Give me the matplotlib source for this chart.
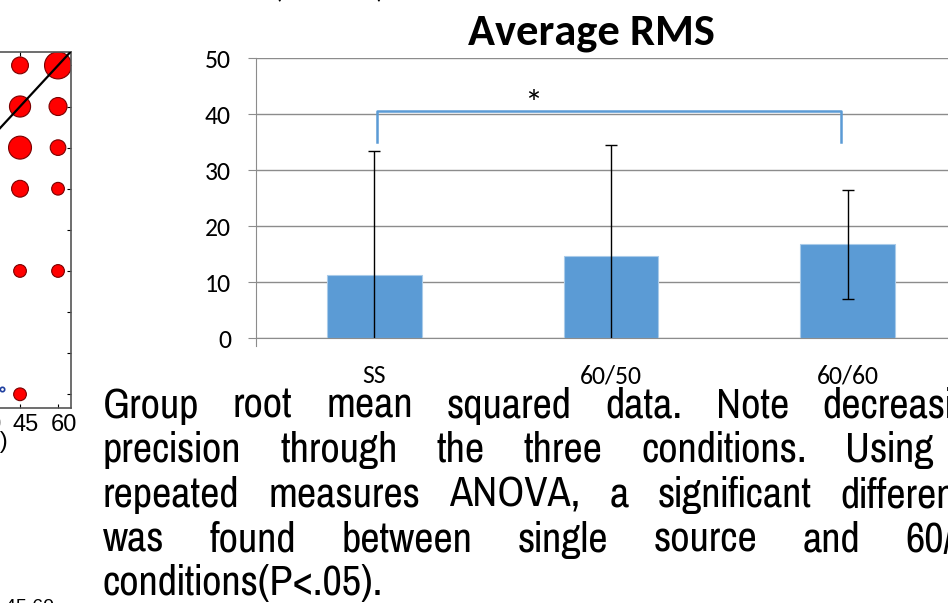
import matplotlib
matplotlib.use('Agg')
import matplotlib.pyplot as plt
import matplotlib.transforms as mtransforms
from matplotlib import font_manager

# bar chart data
conditions = ['SS', '60/50', '60/60']
rms_mean = [11.2, 14.6, 16.7]
rms_sd = [22.2, 19.8, 9.8]

# partial localisation panel on the left (target vs response, dot size = count)
target_deg = [45, 60, 45, 60, 45, 60, 45, 60, 45, 60, 45]
response_deg = [60, 60, 45, 45, 30, 30, 15, 15, -15, -15, -60]
counts = [7, 18, 11, 8, 13, 6, 7, 4, 4, 4, 4]
other_x = [38]
other_y = [-58]
loc_ticks = [-60, -45, -30, -15, 0, 15, 30, 45, 60]

caption_lines = [
    "Group root mean squared data. Note decreasing",
    "precision through the three conditions. Using a",
    "repeated measures ANOVA, a significant difference",
    "was found between single source and 60/60",
    "conditions(P<.05).",
]


def first_installed(names):
    for n in names:
        try:
            font_manager.findfont(n, fallback_to_default=False)
            return n
        except ValueError:
            pass
    return 'DejaVu Sans'


calibri = first_installed(['Carlito', 'Lato'])
arial = first_installed(['Liberation Sans', 'Arimo'])
narrow = first_installed(['Liberation Sans Narrow', 'Arial Narrow', 'Pragati Narrow',
                          'Archivo Narrow', 'PT Sans Narrow', 'Roboto Condensed'])

W, H = 948, 603
fig = plt.figure(figsize=(W / 100, H / 100), dpi=100)
fig.patch.set_facecolor('white')

# ---- left scatter (cut off) ----
sc = fig.add_axes([-258.7 / W, 1 - 408 / H, 329.4 / W, 356.3 / H])
sc.set_xlim(-65, 65)
sc.set_ylim(-65, 65)
sc.plot([-65, 65], [-65, 65], color='black', lw=1.6, zorder=3)
sc.scatter(target_deg, response_deg, s=[21 * c for c in counts], color='#ff0000',
           edgecolor='#7a0000', linewidth=0.8, zorder=2)
sc.scatter(other_x, other_y, s=10, facecolor='white', edgecolor='#1f3f9f', lw=1.2, zorder=2)
sc.set_xticks(loc_ticks)
sc.set_xticklabels([str(t) if t >= 30 else '' for t in loc_ticks])
sc.set_yticks(loc_ticks)
sc.tick_params(direction='in', length=3, top=True, right=True, labelleft=False,
               labelsize=17, pad=4)
for lab in sc.get_xticklabels():
    lab.set_fontfamily(arial)
    lab.set_transform(lab.get_transform() + mtransforms.ScaledTranslation(6 / 100, 0, fig.dpi_scale_trans))
for s in sc.spines.values():
    s.set_color('#555555')
    s.set_linewidth(1.2)

# ---- bar chart ----
ax = fig.add_axes([256 / W, 1 - 338 / H, 710 / W, 280 / H])
x = list(range(len(conditions)))
ax.bar(x, rms_mean, width=0.4, color='#5b9bd5', edgecolor='#a9cbe9', linewidth=0.8, zorder=2)
ax.errorbar(x, rms_mean, yerr=rms_sd, fmt='none', ecolor='black', elinewidth=1,
            capsize=4.3, capthick=1, zorder=3)
ax.set_xlim(-0.5, 2.5)
ax.set_ylim(0, 50)
ax.set_yticks(range(0, 51, 10))
ax.set_xticks(x)
ax.set_xticklabels(conditions)
ax.yaxis.grid(True, color='#8c8c8c', lw=1)
ax.set_axisbelow(True)
for side in ['top', 'right']:
    ax.spines[side].set_visible(False)
ax.spines['left'].set_color('#8c8c8c')
ax.spines['bottom'].set_color('#8c8c8c')
ax.spines['left'].set_bounds(-1.5, 50)
ax.tick_params(axis='y', direction='out', length=6, color='#8c8c8c', labelsize=18.5, pad=12)
ax.tick_params(axis='x', length=0, labelsize=18.5, pad=19)
for lab in ax.get_xticklabels() + ax.get_yticklabels():
    lab.set_fontfamily(calibri)

# significance bracket SS vs 60/60
ax.plot([0.01, 0.01, 1.97, 1.97], [35, 40.5, 40.5, 35], color='#5b9bd5', lw=1.8, zorder=3)
ax.text(0.67, 41.6, '*', ha='center', va='center', fontsize=26, family=calibri)

fig.text(591 / W, 1 - 45 / H, 'Average RMS', ha='center', va='baseline',
         fontsize=32, fontweight='bold', family=calibri)
fig.text(329 / W, 1 + 1.5 / H, '(Location)', ha='center', va='baseline', fontsize=19.5, family=calibri)

# ---- fragments of the neighbouring panel ----
fig.text(8 / W, 1 - 448 / H, 'Location (deg)', ha='right', va='baseline', fontsize=17, family=arial)
fig.text(5 / W, 1 - 599 / H, '45 60', ha='left', va='top', fontsize=14, family=arial)

# ---- justified caption ----
cap = fig.add_axes([0, 0, 1, 1], zorder=5)
cap.set_xlim(0, W)
cap.set_ylim(H, 0)
cap.axis('off')
left, right = 103, 992
baselines = [418, 462, 507, 552, 595]
renderer = fig.canvas.get_renderer()

# size the caption font so the last (unjustified) line is as wide as in the poster
probe = cap.text(left, 0, caption_lines[-1], fontsize=20, family=narrow)
probe_w = probe.get_window_extent(renderer=renderer).width
probe.remove()
cap_size = 20 * 280 / probe_w

for i, line in enumerate(caption_lines):
    y = baselines[i]
    if i == len(caption_lines) - 1:
        cap.text(left, y, line, fontsize=cap_size, family=narrow, va='baseline')
        continue
    words = line.split()
    texts = [cap.text(left, y, w, fontsize=cap_size, family=narrow, va='baseline') for w in words]
    widths = [t.get_window_extent(renderer=renderer).width for t in texts]
    gap = (right - left - sum(widths)) / (len(words) - 1)
    pos = left
    for t, w in zip(texts, widths):
        t.set_x(pos)
        pos += w + gap

fig.savefig('out.png', dpi=100)
